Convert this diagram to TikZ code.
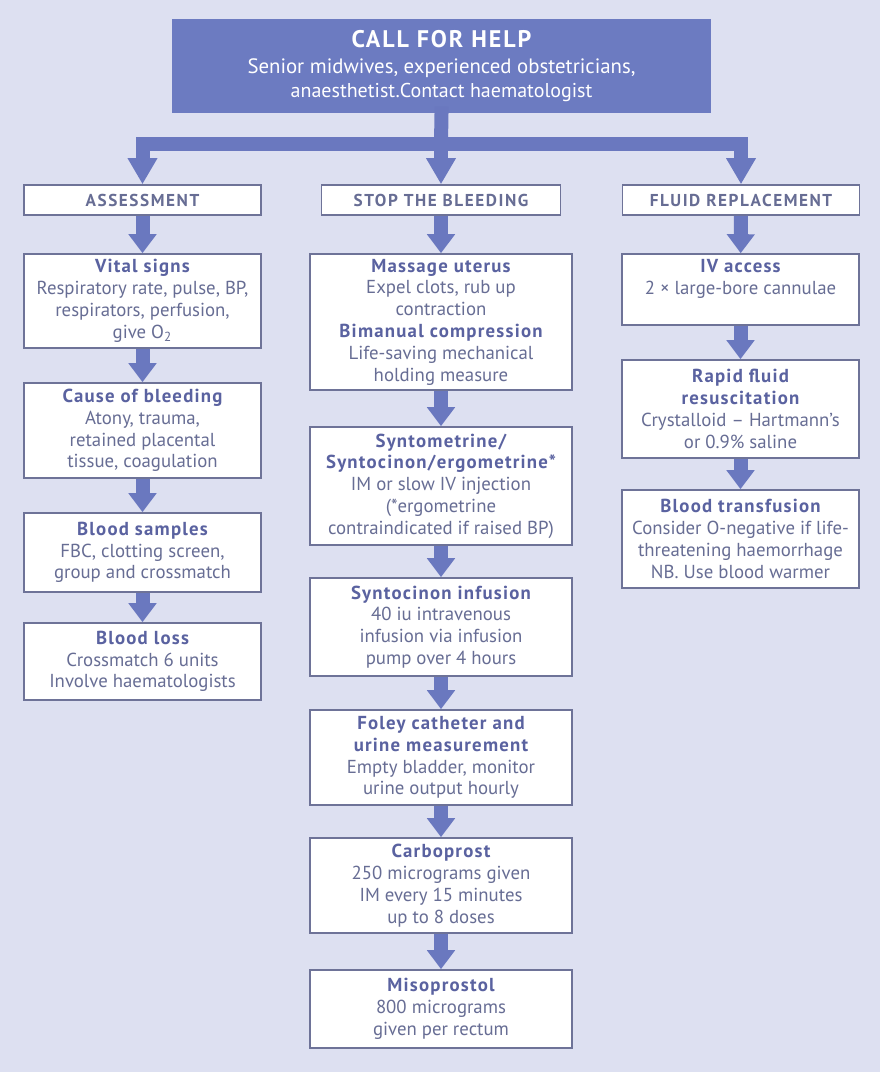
\documentclass[tikz,border=0pt]{standalone}
\usepackage{fontspec}
\setmainfont{PT Sans}
\usepackage{xcolor}
\usetikzlibrary{arrows.meta}

\definecolor{bgblue}{HTML}{DDE0F1}
\definecolor{topblue}{HTML}{6C7BC1}
\definecolor{arrowblue}{HTML}{6A78BF}
\definecolor{edgegray}{HTML}{6E7398}
\definecolor{textgray}{HTML}{676D94}
\definecolor{headblue}{HTML}{5A62A0}

\newcommand{\boxhead}[1]{{\bfseries\addfontfeatures{LetterSpace=6.5}\color{headblue}#1}}

\tikzset{
  stepbox/.style={draw=edgegray, line width=0.8pt, fill=white, inner sep=1pt, align=center,
    text=textgray, font=\fontsize{9.4}{10.9}\selectfont},
  colhead/.style={stepbox, minimum height=15pt,
    font=\bfseries\fontsize{8.6}{10}\selectfont\addfontfeatures{LetterSpace=9}},
  colL/.style={minimum width=118.5pt},
  colM/.style={minimum width=131pt},
  colR/.style={minimum width=118.5pt},
  flow/.style={draw=arrowblue, line width=7pt, -{Triangle[width=13.5pt,length=9.5pt]}},
  branch/.style={draw=arrowblue, line width=7pt, -{Triangle[width=14pt,length=13pt]}},
  bar/.style={draw=arrowblue, line width=7pt, line cap=rect},
}

\begin{document}
\begin{tikzpicture}[x=0.5pt,y=-0.5pt]
\fill[bgblue] (0,0) rectangle (880,1072);
\useasboundingbox (0,0) rectangle (880,1072);

% call for help
\node[fill=topblue, minimum width=269.5pt, minimum height=47pt, align=center, text=white, inner sep=0pt] (help) at (441.5,66)
  {\bfseries\fontsize{12}{15}\selectfont\addfontfeatures{LetterSpace=8}CALL FOR HELP\\[1pt]
   \mdseries\fontsize{10.4}{10}\selectfont Senior midwives, experienced obstetricians,\\ anaesthetist.Contact haematologist};

% column heads
\node[colhead, colL] (assess) at (142.5,200) {ASSESSMENT};
\node[colhead, minimum width=119.5pt] (stop) at (441,200) {STOP THE BLEEDING};
\node[colhead, colR] (fluid) at (741,200) {FLUID REPLACEMENT};

% assessment
\node[stepbox, colL, minimum height=47pt] (vital) at (142.5,301)
  {\boxhead{Vital signs}\\ Respiratory rate, pulse, BP,\\ respirators, perfusion,\\ give O\textsubscript{2}};
\node[stepbox, colL, minimum height=47.5pt] (cause) at (142.5,430.5)
  {\boxhead{Cause of bleeding}\\ Atony, trauma,\\ retained placental\\ tissue, coagulation};
\node[stepbox, colL, minimum height=39.5pt] (samples) at (142.5,552.5)
  {\boxhead{Blood samples}\\ FBC, clotting screen,\\ group and crossmatch};
\node[stepbox, colL, minimum height=38.5pt] (loss) at (142.5,661.5)
  {\boxhead{Blood loss}\\ Crossmatch 6 units\\ Involve haematologists};

% stop the bleeding
\node[stepbox, colM, minimum height=68pt] (massage) at (441,322)
  {\boxhead{Massage uterus}\\ Expel clots, rub up\\ contraction\\ \boxhead{Bimanual compression}\\ Life-saving mechanical\\ holding measure};
\node[stepbox, colM, minimum height=59pt] (ergo) at (441,486)
  {\boxhead{Syntometrine/}\\ \boxhead{Syntocinon/ergometrine*}\\ IM or slow IV injection\\ (*ergometrine\\ contraindicated if raised BP)};
\node[stepbox, colM, minimum height=49pt] (infusion) at (441,627)
  {\boxhead{Syntocinon infusion}\\ 40 iu intravenous\\ infusion via infusion\\ pump over 4 hours};
\node[stepbox, colM, minimum height=47.5pt] (foley) at (441,757.5)
  {\boxhead{Foley catheter and}\\ \boxhead{urine measurement}\\ Empty bladder, monitor\\ urine output hourly};
\node[stepbox, colM, minimum height=47.5pt] (carbo) at (441,885.5)
  {\boxhead{Carboprost}\\ 250 micrograms given\\ IM every 15 minutes\\ up to 8 doses};
\node[stepbox, colM, minimum height=39pt] (miso) at (441,1009)
  {\boxhead{Misoprostol}\\ 800 micrograms\\ given per rectum};

% fluid replacement
\node[stepbox, colR, minimum height=35.5pt] (iv) at (740.5,289.5)
  {\boxhead{IV access}\\ 2 × large-bore cannulae\\[2pt] \mbox{}};
\node[stepbox, colR, minimum height=49pt] (rapid) at (740.5,409)
  {\boxhead{Rapid fluid}\\ \boxhead{resuscitation}\\ Crystalloid – Hartmann’s\\ or 0.9\% saline};
\node[stepbox, colR, minimum height=49pt] (transf) at (740.5,539)
  {\boxhead{Blood transfusion}\\ Consider O-negative if life-\\ threatening haemorrhage\\ NB. Use blood warmer};

% branching arrows
\coordinate (split) at (441,143.5);
\coordinate (splitL) at (assess.north |- split);
\coordinate (splitR) at (fluid.north |- split);
\draw[bar] (help.south) -- (split);
\draw[bar] (splitL) -- (splitR);
\draw[branch] (splitL) -- (assess.north);
\draw[branch] (split) -- (stop.north);
\draw[branch] (splitR) -- (fluid.north);

% column arrows
\draw[flow] (assess) -- (vital);
\draw[flow] (vital) -- (cause);
\draw[flow] (cause) -- (samples);
\draw[flow] (samples) -- (loss);
\draw[flow] (stop) -- (massage);
\draw[flow] (massage) -- (ergo);
\draw[flow] (ergo) -- (infusion);
\draw[flow] (infusion) -- (foley);
\draw[flow] (foley) -- (carbo);
\draw[flow] (carbo) -- (miso);
\draw[flow] (fluid) -- (iv);
\draw[flow] (iv) -- (rapid);
\draw[flow] (rapid) -- (transf);
\end{tikzpicture}
\end{document}
